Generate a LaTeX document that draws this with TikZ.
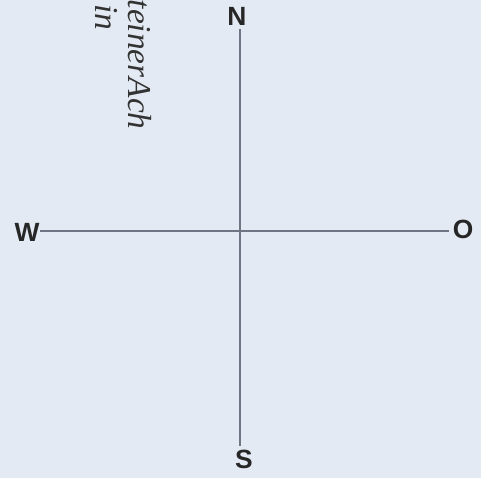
\documentclass[tikz,border=0pt]{standalone}
\usepackage{fontspec}
\setmainfont{Liberation Serif}
\setsansfont{Liberation Sans}
\usetikzlibrary{positioning}

\definecolor{paper}{RGB}{228,234,244}
\definecolor{axis}{RGB}{112,116,132}

\begin{document}
\begin{tikzpicture}[x=0.02cm, y=-0.02cm,
      dir/.style={font=\sffamily\bfseries\fontsize{15}{15}\selectfont, text=black!85, inner sep=2pt},
      axisline/.style={draw=axis, line width=0.8pt},
      note/.style={font=\itshape\fontsize{19}{19}\selectfont, text=black!80, rotate=-90, inner sep=0pt}]

    % ---- Paper ----
    \fill[paper] (0,0) rectangle (481,478);
    \useasboundingbox (0,0) rectangle (481,478);

    % ---- Compass points ----
    \coordinate (c) at (240,231);
    \node[dir] (N) at (237,16) {N};
    \node[dir] (S) at (244,459) {S};
    \node[dir, inner xsep=0pt] (W) at (27,232) {W};
    \node[dir] (O) at (463,229) {O};

    \draw[axisline] (N.south -| c) -- (c) -- (S.north -| c);
    \draw[axisline] (W.east |- c) -- (c) -- (O.west |- c);

    % ---- Margin note (cut off) ----
    \begin{scope}
    \clip (0,0) rectangle (481,478);
    \node[note, anchor=north east] (n1) at (152,130) {teinerAch};
    \node[note, anchor=north east] (n2) at (118,31) {in};
    \end{scope}

\end{tikzpicture}
\end{document}
